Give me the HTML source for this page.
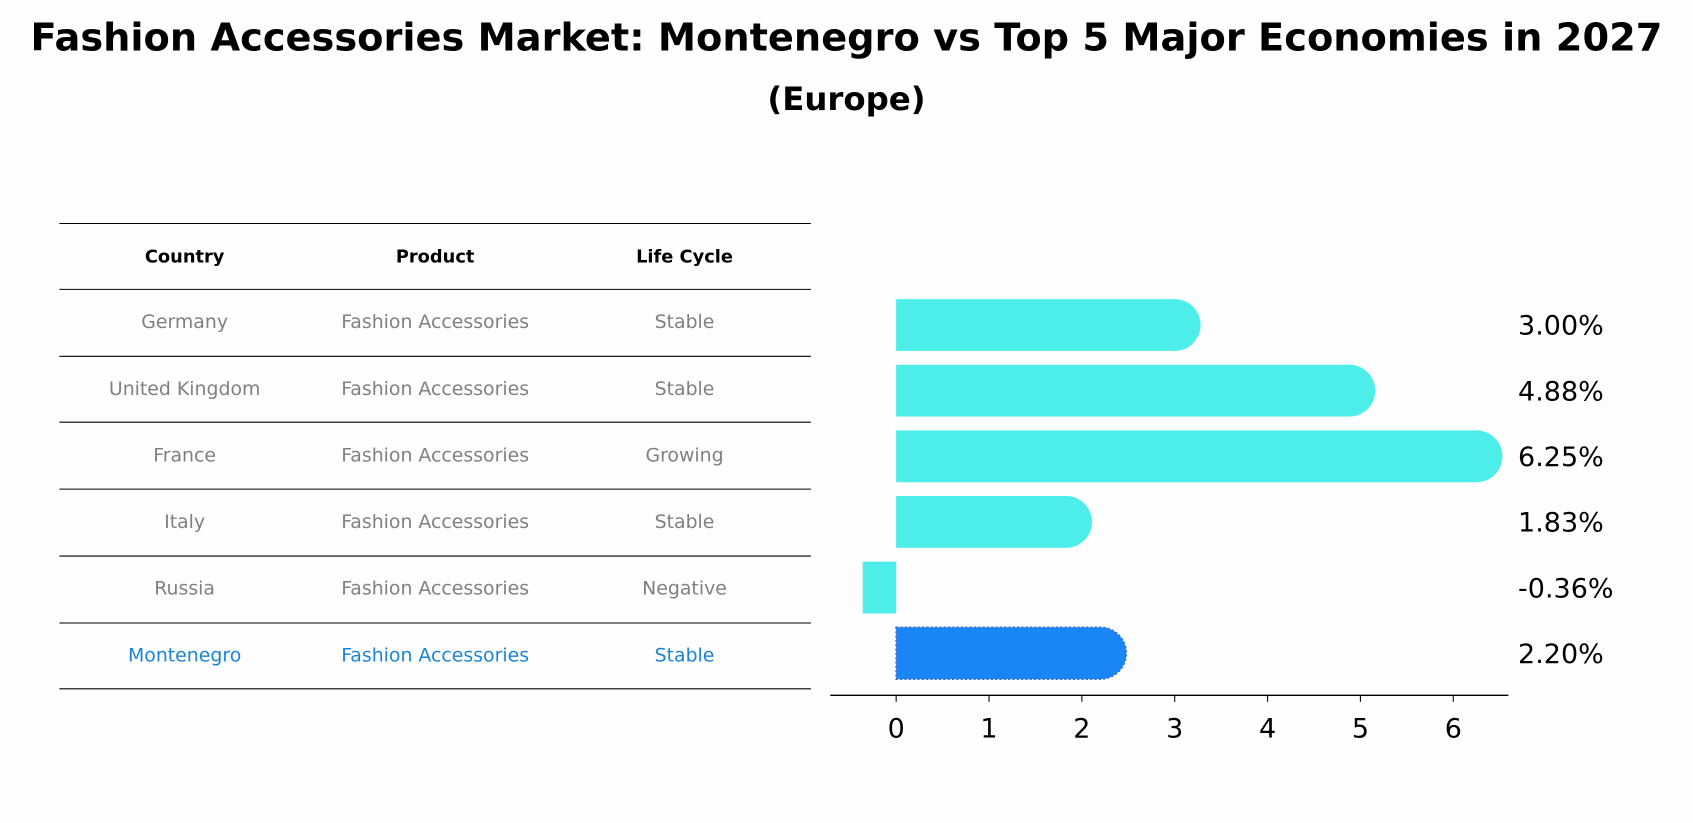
<!DOCTYPE html>
<html><head><meta charset="utf-8"><style>
body{margin:0;background:#fff;font-family:"Liberation Sans","DejaVu Sans",sans-serif;}
#wrap{position:relative;width:1693px;height:823px;overflow:hidden;background:#fefefe}
</style></head><body>
<div id="wrap">
<svg id="svg" width="1693" height="823">
<g transform="scale(1.0797)">
<text x="784" y="47" text-anchor="middle" font-size="35.5" font-weight="bold" font-family="DejaVu Sans,sans-serif">Fashion Accessories Market: Montenegro vs Top 5 Major Economies in 2027</text>
<text x="784" y="102" text-anchor="middle" font-size="30" font-weight="bold" font-family="DejaVu Sans,sans-serif">(Europe)</text>
<g id="table"></g>
<g id="bars"></g>
</g>
</svg>
</div>
<script>
const countries=["Germany","United Kingdom","France","Italy","Russia","Montenegro"];
const products=["Fashion Accessories","Fashion Accessories","Fashion Accessories","Fashion Accessories","Fashion Accessories","Fashion Accessories"];
const lifeCycles=["Stable","Stable","Growing","Stable","Negative","Stable"];
const growth=[3.00,4.88,6.25,1.83,-0.36,2.20];
const xTicks=[0,1,2,3,4,5,6];
const NS="http://www.w3.org/2000/svg";
function mk(tag,attrs,parent){const e=document.createElementNS(NS,tag);for(const k in attrs)e.setAttribute(k,attrs[k]);parent.appendChild(e);return e;}
const tbl=document.getElementById('table');
const lineYs=[207,268,330,391,453,515,577,638];
function rowY(i){return 268+i*61.7;}
lineYs.forEach((y,i)=>{const l=mk('line',{x1:55,x2:751,y1:y,y2:y,stroke:'#000','stroke-width':1},tbl);

});
const colX=[171,403,634];
["Country","Product","Life Cycle"].forEach((h,j)=>{const t=mk('text',{x:colX[j],y:243,'text-anchor':'middle','font-size':16.5,'font-weight':'bold','font-family':'DejaVu Sans,sans-serif'},tbl);t.textContent=h;

});
countries.forEach((c,i)=>{const cy=rowY(i)+36;const col=i===countries.length-1?'#1a85d6':'#808080';
[c,products[i],lifeCycles[i]].forEach((v,j)=>{const t=mk('text',{x:colX[j],y:cy,'text-anchor':'middle','font-size':17.5,fill:col,'font-family':'DejaVu Sans,sans-serif'},tbl);t.textContent=v;

});});
const g=document.getElementById('bars');
const x0=830,unit=86;function sx(v){return x0+v*unit;}
const bh=48,r=24;
growth.forEach((v,i)=>{const cy=301+i*60.8;const last=i===growth.length-1;const fill=last?'#1a85f5':'#4deeea';
let p;
if(v>=0){const xe=sx(v);p=mk('path',{d:`M${x0},${cy-r} L${xe},${cy-r} A${r},${r} 0 0 1 ${xe},${cy+r} L${x0},${cy+r} Z`,fill:fill},g);}
else{p=mk('rect',{x:sx(v),y:cy-r,width:x0-sx(v),height:bh,fill:fill},g);}
if(last){p.setAttribute('stroke','#3a6fd0');p.setAttribute('stroke-dasharray','2,2');p.setAttribute('stroke-width','1.5');}


const t=mk('text',{x:1406,y:cy+9,'font-size':25,'font-family':'DejaVu Sans,sans-serif'},g);t.textContent=v.toFixed(2)+'%';

});
const ax=mk('line',{x1:769,x2:1397,y1:644,y2:644,stroke:'#000','stroke-width':1.2},g);


xTicks.forEach(v=>{const tk=mk('line',{x1:sx(v),x2:sx(v),y1:644,y2:650,stroke:'#000'},g);


const t=mk('text',{x:sx(v),y:683,'text-anchor':'middle','font-size':25,'font-family':'DejaVu Sans,sans-serif'},g);t.textContent=v;

});
</script>
</body></html>
